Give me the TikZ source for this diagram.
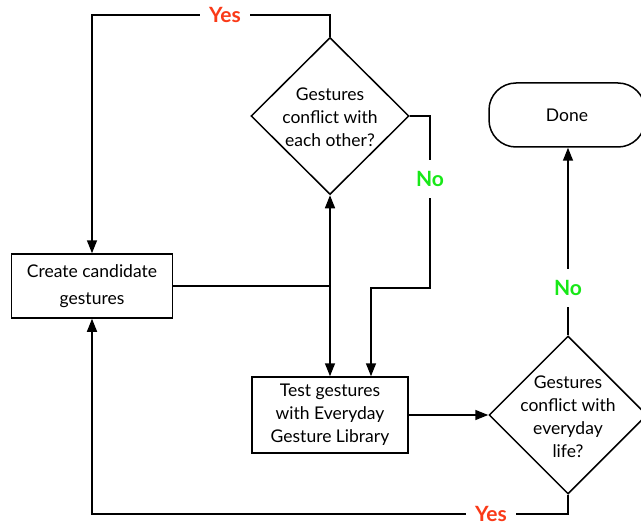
\documentclass[tikz,border=0pt]{standalone}
\usepackage{fontspec}
\setmainfont{Lato}
\usetikzlibrary{shapes.geometric,arrows.meta}
\definecolor{yesred}{RGB}{250,58,24}
\definecolor{nogreen}{RGB}{24,232,24}
\begin{document}
\begin{tikzpicture}[x=1pt,y=-1pt,
  every node/.style={font=\fontsize{17.5}{23}\selectfont},
  box/.style={draw,line width=1.5pt,rectangle,inner sep=0pt,align=center},
  dec/.style={draw,line width=1.5pt,diamond,inner sep=0pt,minimum width=158pt,minimum height=157pt},
  dectext/.style={align=center,inner sep=0pt},
  term/.style={draw,line width=1.5pt,rectangle,rounded corners=27pt,minimum width=156pt,minimum height=64pt},
  conn/.style={line width=1.5pt},
  arr/.style={conn,-{Triangle[length=13pt,width=10pt]}},
  yeslab/.style={fill=white,text=yesred,font=\fontsize{21}{22}\selectfont\bfseries,inner xsep=9pt,inner ysep=2pt},
  nolab/.style={fill=white,text=nogreen,font=\fontsize{21}{22}\selectfont\bfseries,inner xsep=2pt,inner ysep=11pt}
]
\useasboundingbox (0,0) rectangle (641,527);

\node[box,minimum width=161pt,minimum height=64pt,font=\fontsize{17.5}{27}\selectfont] (create) at (92,286) {Create candidate\\gestures};
\node[box,minimum width=156pt,minimum height=76pt] (test) at (330,415) {Test gestures\\with Everyday\\Gesture Library};
\node[dec] (d1) at (330,116) {};
\node[dectext] (d1t) at (330,117) {Gestures\\conflict with\\each other?};
\node[dec,minimum height=158pt] (d2) at (568,415) {};
\node[dectext] (d2t) at (568,417) {Gestures\\conflict with\\everyday\\life?};
\node[term] (done) at (567,115) {Done};

\coordinate (tl) at (92,15);
\coordinate (j1) at (create.east -| d1.south);
\coordinate (n1) at (430,288);
\coordinate (bl) at (92,514);

\draw[arr] (d1.north) |- (tl) -- (create.north);
\draw[conn] (create.east) -- (j1);
\draw[arr] (j1) -- (d1.south);
\draw[arr] (j1) -- (test.north);
\draw[arr] (d1.east) -| (n1) -- (371,288) -- (test.north -| 371,0);
\draw[arr] (test.east) -- (d2.west);
\draw[arr] (d2.north) -- (done.south -| d2.north);
\draw[arr] (d2.south) |- (bl) -- (create.south);

\node[yeslab] (y1) at (225,15) {Yes};
\node[yeslab] (y2) at (491,514) {Yes};
\node[nolab] (no1) at (430,179) {No};
\node[nolab] (no2) at (568,288) {No};
\end{tikzpicture}
\end{document}
